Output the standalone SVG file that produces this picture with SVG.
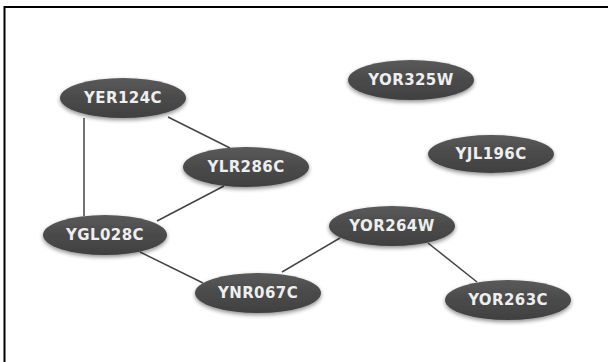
<svg xmlns="http://www.w3.org/2000/svg" width="608" height="362" viewBox="0 0 608 362">
<defs>
<linearGradient id="g" x1="0" y1="0" x2="0" y2="1">
<stop offset="0" stop-color="#5a5a5a"/>
<stop offset="0.5" stop-color="#4a4a4a"/>
<stop offset="1" stop-color="#404040"/>
</linearGradient>
<filter id="sh" x="-20%" y="-30%" width="140%" height="170%">
<feGaussianBlur in="SourceAlpha" stdDeviation="2"/>
<feOffset dy="2" result="b"/>
<feComponentTransfer><feFuncA type="linear" slope="0.45"/></feComponentTransfer>
<feMerge><feMergeNode/><feMergeNode in="SourceGraphic"/></feMerge>
</filter>
<style>
.n ellipse{fill:url(#g);filter:url(#sh)}
.n text{fill:#eeeeee;font-family:"DejaVu Sans",Verdana,sans-serif;font-weight:bold;font-size:15px;letter-spacing:0.4px;text-anchor:middle;dominant-baseline:central}
.e line{stroke:#444;stroke-width:1.5}
</style>
</defs>
<rect width="608" height="362" fill="#fff"/>
<path d="M4.5 362V7H608" fill="none" stroke="#000" stroke-width="2"/>
<g class="e">
<line x1="84" y1="118" x2="84" y2="216"/>
<line x1="168" y1="117" x2="230" y2="148"/>
<line x1="224" y1="186" x2="157" y2="221"/>
<line x1="140" y1="252" x2="203" y2="283"/>
<line x1="282" y1="272" x2="340" y2="238"/>
<line x1="428" y1="243" x2="477" y2="282"/>
</g>
<g class="n" id="YER124C"><ellipse cx="123" cy="98" rx="63" ry="20"/><text x="123" y="98">YER124C</text></g>
<g class="n" id="YLR286C"><ellipse cx="246" cy="167" rx="63" ry="20"/><text x="246" y="167">YLR286C</text></g>
<g class="n" id="YGL028C"><ellipse cx="105" cy="235" rx="62" ry="20"/><text x="105" y="235">YGL028C</text></g>
<g class="n" id="YNR067C"><ellipse cx="258" cy="293" rx="63" ry="20"/><text x="258" y="293">YNR067C</text></g>
<g class="n" id="YOR325W"><ellipse cx="411" cy="80" rx="63" ry="20"/><text x="411" y="80">YOR325W</text></g>
<g class="n" id="YJL196C"><ellipse cx="491" cy="154" rx="63" ry="19"/><text x="491" y="154">YJL196C</text></g>
<g class="n" id="YOR264W"><ellipse cx="392" cy="226" rx="63" ry="20"/><text x="392" y="226">YOR264W</text></g>
<g class="n" id="YOR263C"><ellipse cx="508" cy="300" rx="63" ry="20"/><text x="508" y="300">YOR263C</text></g>
</svg>
